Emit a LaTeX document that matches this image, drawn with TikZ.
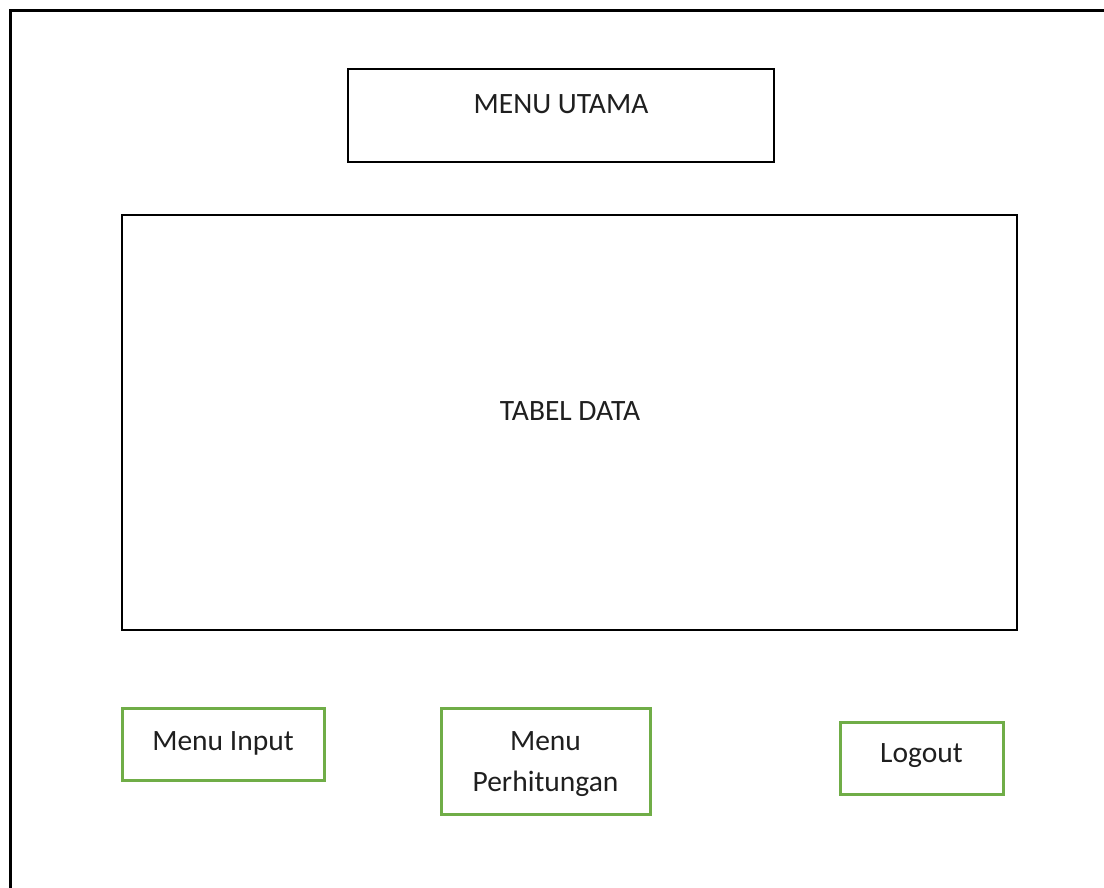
\documentclass[tikz,border=0pt]{standalone}
\usepackage{fontspec}
\setmainfont{Carlito}
\begin{document}
\begin{tikzpicture}[x=1pt,y=-1pt,
  blackbox/.style={draw=black, line width=2.9pt, inner sep=0pt},
  greenbox/.style={draw=officegreen, line width=3pt, inner sep=0pt},
  label/.style={text=black!88, font=\fontsize{29.5}{42}\selectfont, inner sep=0pt, align=center}]
\definecolor{officegreen}{HTML}{70AD47}
\useasboundingbox (0,0) rectangle (1104,887);
\fill[white] (0,0) rectangle (1104,887);
% outer window frame, running off the right and bottom edges
\draw[line width=2.9pt] (10.5,900) -- (10.5,10.5) -- (1120,10.5);
% header and data table
\node[blackbox, minimum width=426pt, minimum height=93pt] (utama) at (561,115.5) {};
\node[label] (utamatxt) at (561,104) {MENU UTAMA};
\node[blackbox, minimum width=895pt, minimum height=415pt] (tabel) at (569.5,422.5) {};
\node[label] (tabeltxt) at (570,411) {TABEL DATA};
% menu buttons
\node[greenbox, minimum width=202pt, minimum height=72pt] (input) at (223,744) {};
\node[label] (inputtxt) at (223,743) {Menu Input};
\node[greenbox, minimum width=209pt, minimum height=106pt] (hitung) at (545.5,761) {};
\node[label] (hitungtxt1) at (545.5,741) {Menu};
\node[label] (hitungtxt2) at (545.5,784) {Perhitungan};
\node[greenbox, minimum width=163pt, minimum height=72pt] (logout) at (921.5,758) {};
\node[label] (logouttxt) at (921.5,756) {Logout};
\end{tikzpicture}
\end{document}
